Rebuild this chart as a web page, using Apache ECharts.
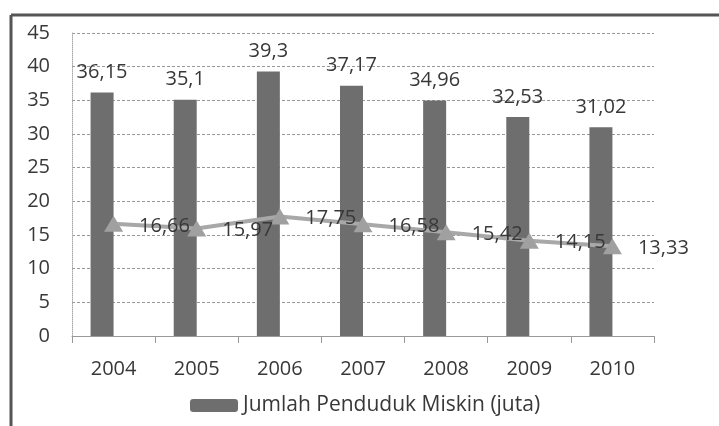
<!DOCTYPE html>
<html>
<head>
<meta charset="utf-8">
<script src="https://cdn.jsdelivr.net/npm/echarts@6/dist/echarts.min.js"></script>
<style>
html,body{margin:0;padding:0;background:#fff;}
#c{width:719px;height:426px;}
</style>
</head>
<body>
<div id="c"></div>
<script>
var years = ['2004','2005','2006','2007','2008','2009','2010'];
var barValues = [36.15, 35.1, 39.3, 37.17, 34.96, 32.53, 31.02];
var lineValues = [16.66, 15.97, 17.75, 16.58, 15.42, 14.15, 13.33];
var spacerValues = ['-','-','-','-','-','-','-'];
var barName = 'Jumlah Penduduk Miskin (juta)';
var lineName = 'Garis';

var FONT = 'Open Sans';
var TXT = '#383838';
function fmt(p){ return String(p.value).replace('.', ','); }

var chart = echarts.init(document.getElementById('c'));
chart.setOption({
  animation: false,
  backgroundColor: '#fff',
  textStyle: { fontFamily: FONT },
  grid: { left: 72, right: 65, top: 33, bottom: 90, containLabel: false },
  graphic: [
    { type: 'line', shape: { x1: 11, y1: 15, x2: 719, y2: 15 }, style: { stroke: '#555', lineWidth: 3 } },
    { type: 'line', shape: { x1: 11, y1: 15, x2: 11, y2: 426 }, style: { stroke: '#555', lineWidth: 3 } }
  ],
  legend: {
    data: [barName],
    left: 185,
    top: 390,
    itemWidth: 48,
    itemHeight: 13,
    itemGap: 10,
    textStyle: { fontFamily: FONT, fontSize: 21, color: TXT }
  },
  xAxis: {
    type: 'category',
    data: years,
    boundaryGap: true,
    axisLine: { lineStyle: { color: '#999', width: 1 } },
    axisTick: { show: true, length: 7, lineStyle: { color: '#999' } },
    axisLabel: { fontFamily: FONT, fontSize: 20, color: TXT, margin: 23 }
  },
  yAxis: {
    type: 'value',
    min: 0, max: 45, interval: 5,
    axisLine: { show: true, lineStyle: { color: '#aaa', type: 'dotted' } },
    axisTick: { show: false },
    axisLabel: { fontFamily: FONT, fontSize: 20, color: TXT, margin: 22 },
    splitLine: { lineStyle: { color: '#999', type: [3, 2], width: 1 } }
  },
  series: [
    {
      name: barName,
      type: 'bar',
      data: barValues,
      barWidth: 23,
      itemStyle: { color: '#6e6e6e' },
      label: { show: true, position: 'top', distance: 10, formatter: fmt,
               fontFamily: FONT, fontSize: 20, color: TXT }
    },
    {
      name: 'spacer',
      type: 'bar',
      data: spacerValues,
      barWidth: 23,
      barGap: '0%',
      itemStyle: { color: 'transparent' }
    },
    {
      name: lineName,
      type: 'line',
      data: lineValues,
      z: 5,
      symbol: 'triangle',
      symbolSize: [19, 16],
      lineStyle: { color: '#a8a8a8', width: 4 },
      itemStyle: { color: '#a0a0a0' },
      label: { show: true, position: 'right', distance: 16, offset: [0, 2], formatter: fmt,
               fontFamily: FONT, fontSize: 20, color: TXT }
    }
  ]
});
</script>
</body>
</html>
